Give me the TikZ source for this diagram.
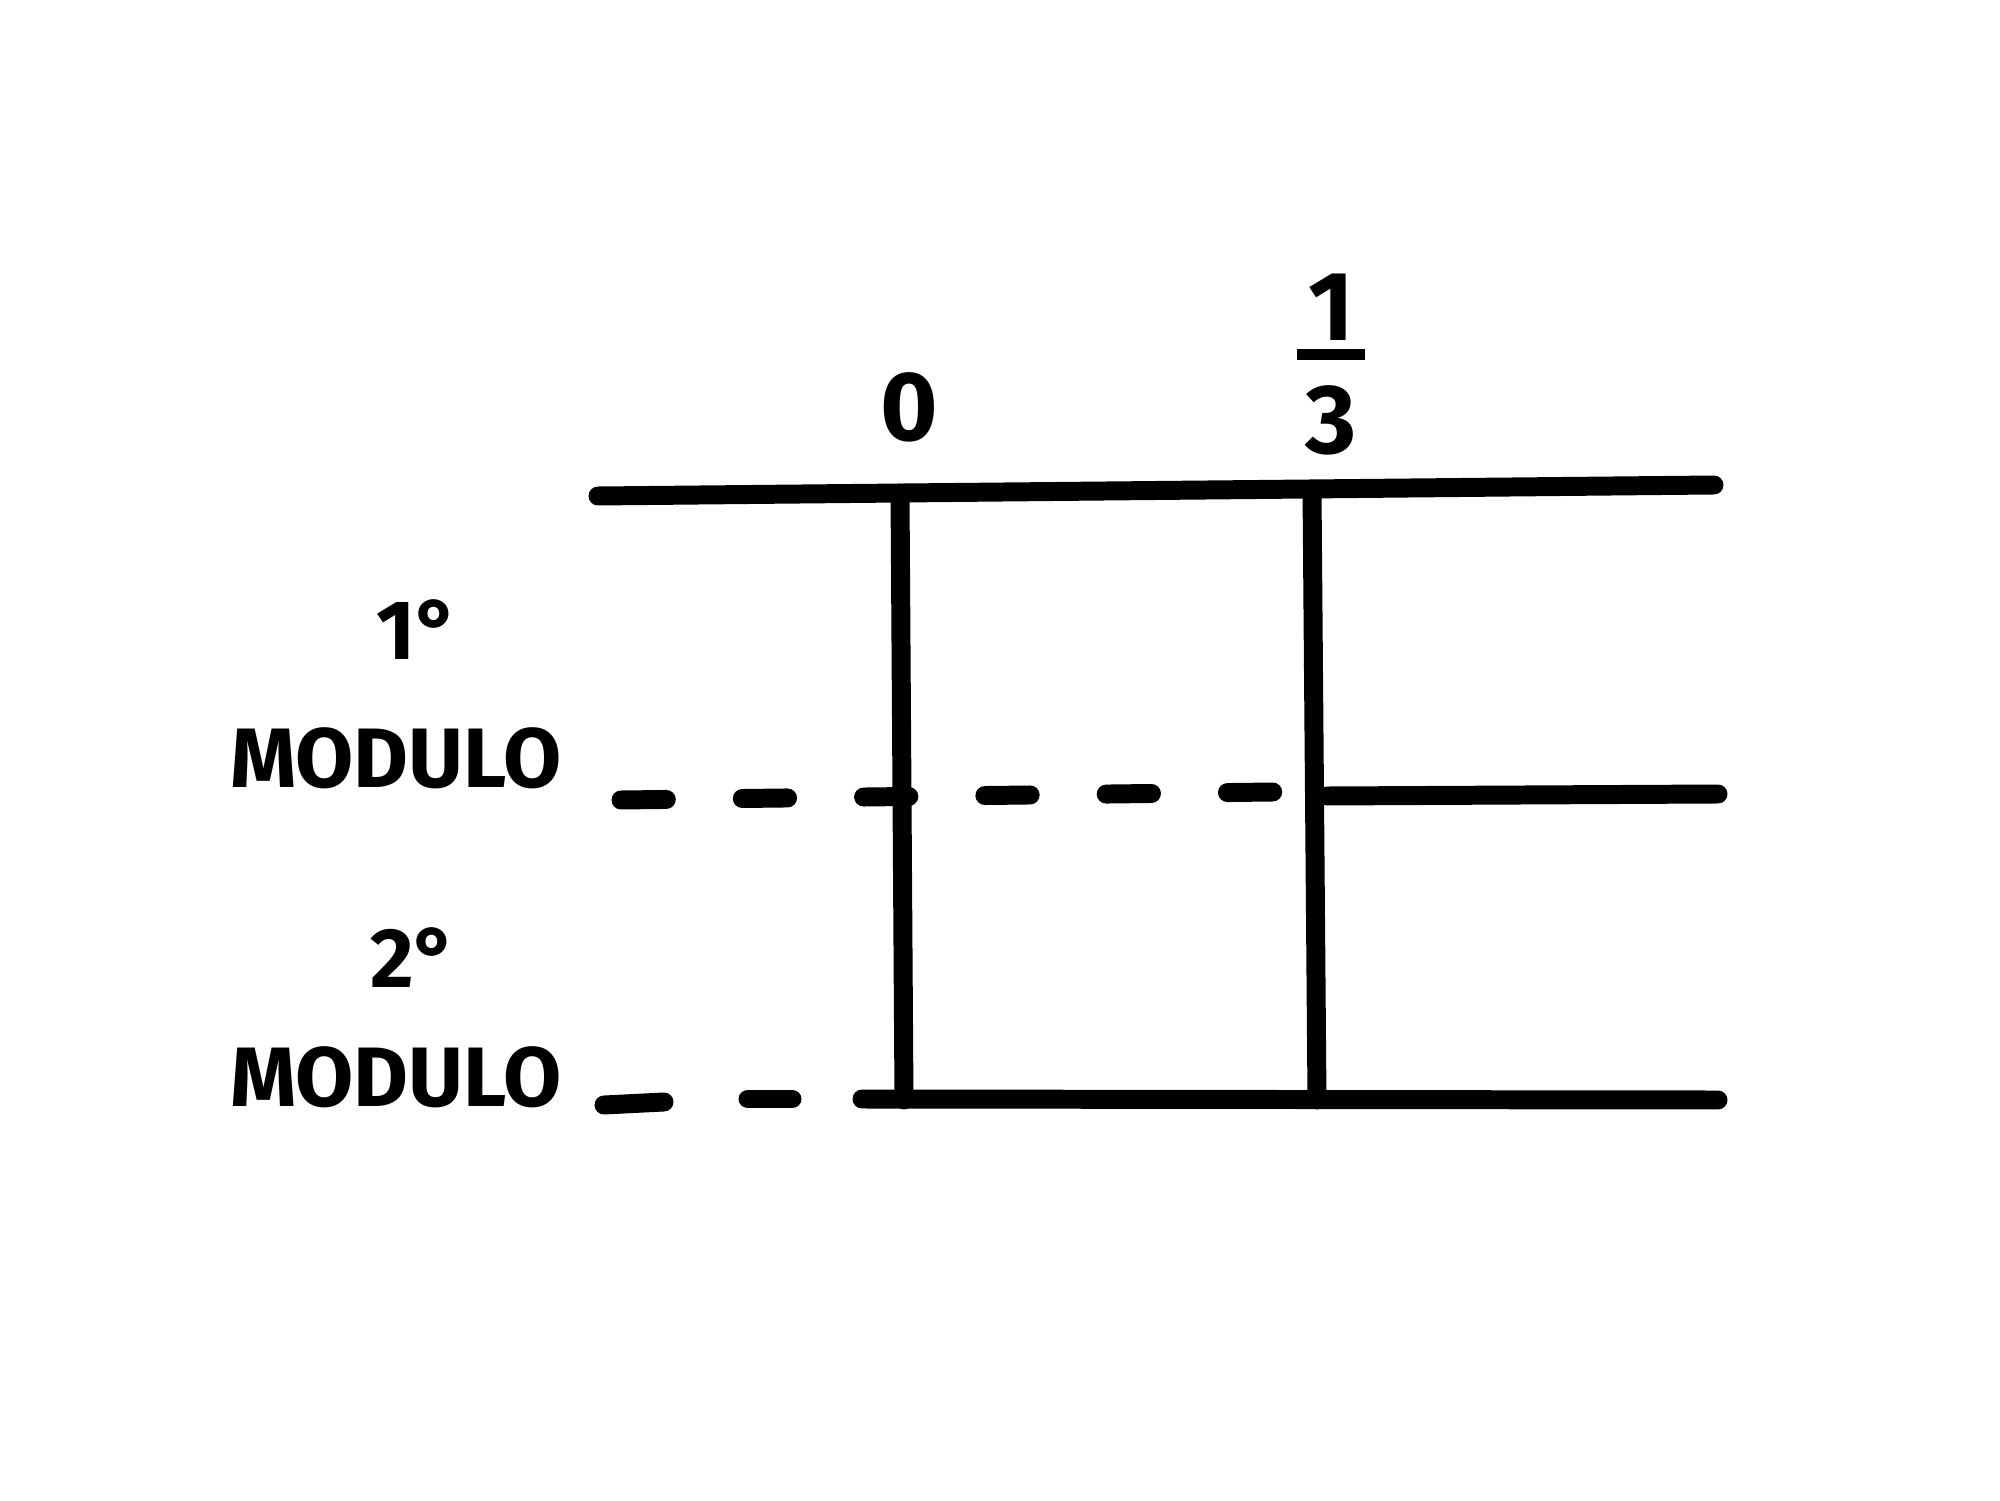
\documentclass[tikz,border=0pt]{standalone}
\usepackage{amsmath}
\usepackage{fontspec}
\setmainfont{Fira Sans}
\usepackage{tikz}
\tikzstyle{bar} = [line width=5.4pt, line cap=round, draw=black]
\tikzstyle{dashbar} = [bar, dash pattern=on 0.453cm off 0.76cm]
\tikzstyle{txt} = [font=\bfseries\fontsize{24}{28}\selectfont, inner sep=0pt]
\tikzstyle{num} = [font=\bfseries\fontsize{28}{32}\selectfont, inner sep=0pt]

\begin{document}
\begin{tikzpicture}
\useasboundingbox (0,0) rectangle (20,15);
\fill[white] (0,0) rectangle (20,15);

% grid lines
\coordinate (topL) at (5.98,10.04);
\coordinate (topR) at (17.14,10.15);
\coordinate (zeroT) at (9.00,10.07);
\coordinate (zeroB) at (9.04,4.00);
\coordinate (thirdT) at (13.12,10.10);
\coordinate (thirdB) at (13.17,4.00);
\coordinate (midL) at (13.27,7.04);
\coordinate (midR) at (17.18,7.06);
\coordinate (dashL) at (6.21,7.00);
\coordinate (dashR) at (12.73,7.08);
\coordinate (botL) at (8.62,4.01);
\coordinate (botR) at (17.18,4.00);
\coordinate (bdashL) at (6.04,3.95);
\coordinate (bdashR) at (7.92,4.01);

\draw [bar] (topL) -- (topR);
\draw [bar] (zeroT) -- (zeroB);
\draw [bar] (thirdT) -- (thirdB);
\draw [bar] (midL) -- (midR);
\draw [bar] (botL) -- (botR);
\draw [dashbar] (dashL) -- (dashR);
\draw [bar] (bdashL) -- ++(0.6,0.03);
\draw [bar] (7.48,4.01) -- (bdashR);

% labels
\node (zero) [num] at (9.09,10.93) {0};
\node (third) [num, align=center, anchor=south] at (13.31,10.44) {1\\[-26.5pt]\rule{0.7em}{3.2pt}\\[-5.4pt]3};
\node (first) [txt] at (4.18,8.70) {1°};
\node (mod1) [txt] at (3.96,7.42) {MODULO};
\node (second) [txt] at (4.14,5.42) {2°};
\node (mod2) [txt] at (3.96,4.23) {MODULO};
\end{tikzpicture}
\end{document}
